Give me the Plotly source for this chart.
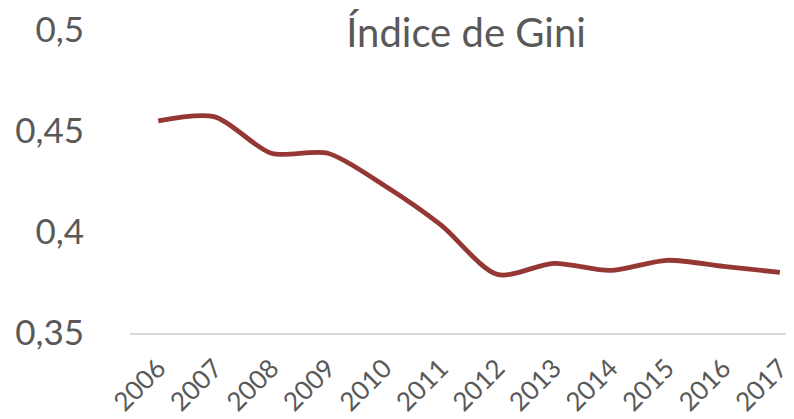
import plotly.graph_objects as go

years = ["2006", "2007", "2008", "2009", "2010", "2011", "2012", "2013", "2014", "2015", "2016", "2017"]
gini = [0.455, 0.457, 0.439, 0.439, 0.423, 0.4035, 0.379, 0.3845, 0.381, 0.386, 0.383, 0.380]
y_ticks = [0.35, 0.4, 0.45, 0.5]
y_tick_labels = ["0,35", "0,4", "0,45", "0,5"]
title_text = "Índice de Gini"

fig = go.Figure()
fig.add_trace(go.Scatter(
    x=years, y=gini, mode="lines",
    line=dict(color="#953735", width=4.8, shape="spline", smoothing=0.8),
    hoverinfo="skip", cliponaxis=True,
))

font_family = "Lato"
fig.update_layout(
    width=794, height=419,
    margin=dict(l=122, r=8, t=22, b=94),
    paper_bgcolor="white", plot_bgcolor="white",
    showlegend=False,
    title=dict(text=title_text, x=458 / 794, xanchor="center", y=1 - 25 / 419, yanchor="middle",
               yref="container", xref="container",
               font=dict(family=font_family, size=40, color="#595959")),
)
fig.update_xaxes(
    type="category", showgrid=False, showline=True, linecolor="#d9d9d9", linewidth=1.5,
    tickangle=-45, ticks="outside", ticklen=8, tickcolor="rgba(0,0,0,0)",
    tickfont=dict(family=font_family, size=26, color="#595959"),
    range=[-0.5, 11.25], automargin=False, ticklabeloverflow="allow",
)
fig.update_yaxes(
    range=[0.35, 0.5], tickvals=y_ticks, ticktext=y_tick_labels,
    showgrid=False, zeroline=False, showline=False,
    ticks="outside", ticklen=38, tickcolor="rgba(0,0,0,0)",
    tickfont=dict(family=font_family, size=35, color="#595959"),
    automargin=False, ticklabeloverflow="allow",
)
fig.write_html("out.html")
